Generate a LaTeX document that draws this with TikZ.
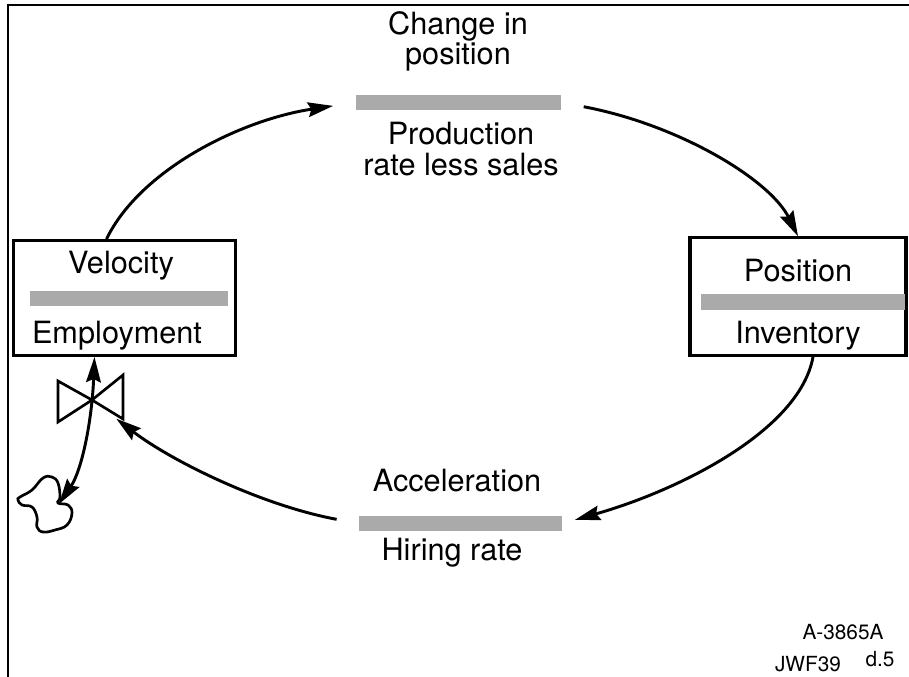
\documentclass[tikz,border=0pt]{standalone}
\usepackage{fontspec}
\setmainfont{TeX Gyre Heros}
\usetikzlibrary{arrows.meta}
\definecolor{bargray}{RGB}{170,170,170}
\tikzset{
  stockbox/.style={draw, line width=2.4pt, minimum width=167pt, minimum height=86pt, inner sep=0pt},
  flowbar/.style={fill=bargray, inner sep=0pt, minimum height=11.5pt},
  lbl/.style={font=\fontsize{23}{25}\selectfont, inner sep=0pt, anchor=base},
  tag/.style={font=\fontsize{15.6}{17}\selectfont, inner sep=0pt, anchor=base},
  tip/.style={-{Stealth[length=19pt, width=11pt, inset=2.5pt]}},
  flow/.style={line width=2.2pt, tip},
}
\begin{document}
\begin{tikzpicture}[x=0.75pt, y=-0.75pt]
\useasboundingbox (0,0) rectangle (909,677);
\draw[line width=1.6pt] (8,680) -- (8,5) -- (912,5);
% stocks
\node[stockbox] (vel) at (124.5,298) {};
\node[flowbar, minimum width=148.5pt] (velbar) at (129,298.5) {};
\node[lbl] (velA) at (121,273) {Velocity};
\node[lbl] (velB) at (117,343) {Employment};
\node[stockbox, minimum width=162pt, minimum height=88pt] (pos) at (798,296.5) {};
\node[flowbar, minimum width=153pt] (posbar) at (803,302) {};
\node[lbl] (posA) at (798,281) {Position};
\node[lbl] (posB) at (798,343) {Inventory};
% flows
\node[flowbar, minimum width=154pt] (chg) at (458.5,102.5) {};
\node[lbl] (chgA) at (458,35) {Change in};
\node[lbl] (chgB) at (458,65) {position};
\node[lbl] (chgC) at (461,145) {Production};
\node[lbl] (chgD) at (461,176) {rate less sales};
\node[flowbar, minimum width=152pt] (acc) at (460.5,523.5) {};
\node[lbl] (accA) at (457,491) {Acceleration};
\node[lbl] (accB) at (452,560) {Hiring rate};
% valve and cloud
\coordinate (valve) at (92,400);
\coordinate (cloud) at (59,504);
\draw[line width=2pt, line join=miter] (valve) -- ++(-34,-19) -- ++(0,41) -- cycle;
\draw[line width=2pt, line join=miter] (valve) -- ++(31,-25) -- ++(0,44) -- cycle;
\draw[line width=2pt] plot[smooth cycle, tension=0.7] coordinates {
  (20,497) (32,490) (43,478) (52,477) (58,483) (60,497) (58,503) (68,505)
  (72,513) (67,525) (55,530) (43,532) (37,527) (37,517) (32,507) (22,505) (18,500)};
% loop
\draw[flow, shorten >=17pt] (vel.107) .. controls (140,170) and (240,120) .. (chg.west);
\draw[flow, shorten <=17pt] (chg.east) .. controls (680,125) and (770,180) .. (pos.north);
\draw[flow, shorten >=10pt] (pos.-76) .. controls (800,430) and (680,490) .. (acc.east);
\draw[flow, shorten <=17pt, shorten >=23pt] (acc.west) .. controls (260,505) and (170,460) .. (valve);
\draw[flow, {Stealth[length=19pt, width=11pt, inset=2.5pt]}-{Stealth[length=19pt, width=11pt, inset=2.5pt]}] (vel.243) .. controls (92,420) and (82,470) .. (cloud);
% tags
\node[tag] (tagA) at (843,639) {A-3865A};
\node[tag] (tagB) at (808,671) {JWF39};
\node[tag] (tagC) at (880,666) {d.5};
\end{tikzpicture}
\end{document}
